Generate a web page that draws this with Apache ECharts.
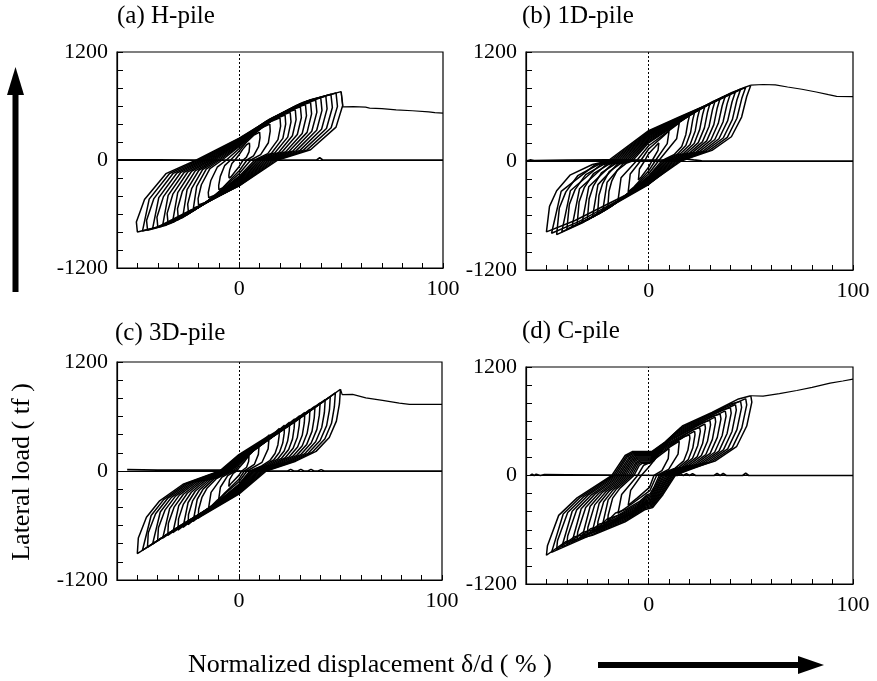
<!DOCTYPE html>
<html><head><meta charset="utf-8">
<script src="https://cdn.jsdelivr.net/npm/echarts@6/dist/echarts.min.js"></script>
<style>html,body{margin:0;padding:0;background:#fff}#c{width:877px;height:681px}</style>
</head><body><div id="c"></div>
<script>
// ---- tick labels ----
const xTickLabels = [0, 100];
const yTickLabels = [-1200, 0, 1200];
const panelTitles = ['(a) H-pile', '(b) 1D-pile', '(c) 3D-pile', '(d) C-pile'];
const yAxisTitle = 'Lateral load ( tf )';
const xAxisTitle = 'Normalized displacement \u03b4/d ( % )';

// ---- (a) H-pile : hysteresis loops [x list, y list] ----
const loopsH = [
 [[5,5.1,4.8,3.5,1.9,0,-2,-4,-5,-5.1,-4.7,-3.6,-2.1,0,1.7,3.5,5],[190,152,91,29,0,-72,-128,-186,-200,-172,-110,-38,0,61,118,167,190]],
 [[10,10.2,9.5,7,3.8,0,-4,-8,-10,-10.1,-9.3,-7.2,-4.2,0,3.3,7,10],[310,248,149,47,0,-119,-211,-307,-330,-284,-182,-63,0,99,192,273,310]],
 [[15,15.2,14.3,10.5,5.7,0,-6,-12,-15,-15.2,-14,-10.8,-6.3,0,5,10.5,15],[400,320,192,60,0,-151,-269,-391,-420,-361,-231,-80,0,128,248,352,400]],
 [[20,20.3,19,14,7.6,0,-8,-16,-20,-20.2,-18.6,-14.4,-8.4,0,6.6,14,20],[470,376,226,71,0,-180,-320,-465,-500,-430,-275,-95,0,150,291,414,470]],
 [[22.5,22.8,21.4,15.8,8.6,0,-9,-18,-22.5,-20.9,-16.2,-9.5,0,15.8,22.5],[500,400,240,75,0,-193,-342,-498,-535,-294,-102,0,160,440,500]],
 [[25,25.4,23.8,17.5,9.5,0,-10,-20,-25,-25.3,-23.3,-18,-10.5,0,8.3,17.5,25],[530,424,254,80,0,-205,-365,-530,-570,-490,-314,-108,0,170,329,466,530]],
 [[27.5,27.9,26.1,19.3,10.5,0,-11,-22,-27.5,-25.6,-19.8,-11.6,0,19.3,27.5],[560,448,269,84,0,-216,-384,-558,-600,-330,-114,0,179,493,560]],
 [[30,30.5,28.5,21,11.4,0,-12,-24,-30,-30.3,-27.9,-21.6,-12.6,0,9.9,21,30],[590,472,283,89,0,-227,-403,-586,-630,-542,-347,-120,0,189,366,519,590]],
 [[32.5,33,30.9,22.8,12.4,0,-13,-26,-32.5,-30.2,-23.4,-13.7,0,22.8,32.5],[615,492,295,92,0,-238,-422,-614,-660,-363,-125,0,197,541,615]],
 [[35,35.5,33.3,24.5,13.3,0,-14,-28,-35,-35.4,-32.6,-25.2,-14.7,0,11.6,24.5,35],[640,512,307,96,0,-248,-442,-642,-690,-593,-380,-131,0,205,397,563,640]],
 [[37.5,38.1,35.6,26.3,14.3,0,-15,-30,-37.5,-34.9,-27,-15.8,0,26.3,37.5],[665,532,319,100,0,-257,-458,-665,-715,-393,-136,0,213,585,665]],
 [[40,40.6,38,28,15.2,0,-16,-32,-40,-40.4,-37.2,-28.8,-16.8,0,13.2,28,40],[690,552,331,104,0,-266,-474,-688,-740,-636,-407,-141,0,221,428,607,690]],
 [[42.5,43.1,40.4,29.8,16.2,0,-17,-34,-42.5,-39.5,-30.6,-17.9,0,29.8,42.5],[710,568,341,107,0,-274,-486,-707,-760,-418,-144,0,227,625,710]],
 [[45,45.7,42.8,31.5,17.1,0,-18,-36,-45,-45.5,-41.9,-32.4,-18.9,0,14.9,31.5,45],[730,584,350,110,0,-281,-499,-725,-780,-671,-429,-148,0,234,453,642,730]],
 [[47.5,48.2,45.1,33.3,18.1,0,-19,-38,-47.5,-44.2,-34.2,-20,0,33.3,47.5],[745,596,358,112,0,-284,-506,-735,-790,-435,-150,0,238,656,745]],
 [[50,50.8,47.5,35,19,0,-20,-40,-50,-50.5,-46.5,-36,-21,0,16.5,35,50],[760,608,365,114,0,-288,-512,-744,-800,-688,-440,-152,0,243,471,669,760]]
];
const tailH = [[50,50.8,56,62,64,70,77,85,93,96,100],[760,590,592,588,576,570,557,547,535,526,520]];
const baseH = [[-60,-40,-20,38,39.5,41,100],[3,3,0,0,25,0,0]];

// ---- (b) 1D-pile ----
const loops1D = [
 [[5,4.6,1.6,0,-3.6,-5,-4.5,-2,0,3.1,5],[200,116,0,-67,-176,-210,-88,0,80,154,200]],
 [[10,9.1,3.2,0,-7.2,-10,-9,-4,0,6.2,10],[330,191,0,-109,-286,-340,-143,0,132,254,330]],
 [[15,13.7,4.8,0,-10.8,-15,-13.5,-6,0,9.3,15],[420,244,0,-141,-370,-440,-185,0,168,323,420]],
 [[20,19.2,18.2,16.2,12.4,8.4,6.4,0,-7.8,-14.4,-20,-19.4,-18,-15.4,-11,-8,0,6,12.4,18,20],[500,425,290,160,70,25,0,-166,-312,-437,-520,-333,-218,-104,-26,0,200,290,385,475,500]],
 [[22.5,21.6,20.5,18.2,14,7.2,0,-8.8,-16.2,-22.5,-20.3,-12.4,-9,0,14,22.5],[535,455,310,171,75,0,-178,-333,-466,-555,-233,-28,0,214,412,535]],
 [[25,24,22.8,20.3,15.5,10.5,8,0,-9.8,-18,-25,-24.3,-22.5,-19.3,-13.8,-10,0,7.5,15.5,22.5,25],[570,485,331,182,80,29,0,-189,-354,-496,-590,-378,-248,-118,-30,0,228,331,439,542,570]],
 [[27.5,26.4,25,22.3,17.1,8.8,0,-10.7,-19.8,-27.5,-24.8,-15.1,-11,0,17.1,27.5],[600,510,348,192,84,0,-198,-372,-521,-620,-260,-31,0,240,462,600]],
 [[30,28.8,27.3,24.3,18.6,12.6,9.6,0,-11.7,-21.6,-30,-29.1,-27,-23.1,-16.5,-12,0,9,18.6,27,30],[630,536,365,202,88,32,0,-208,-390,-546,-650,-416,-273,-130,-33,0,252,365,485,599,630]],
 [[32.5,31.2,29.6,26.3,20.2,10.4,0,-12.7,-23.4,-32.5,-29.3,-17.9,-13,0,20.2,32.5],[660,561,383,211,92,0,-216,-405,-567,-675,-284,-34,0,264,508,660]],
 [[35,33.6,31.9,28.4,21.7,14.7,11.2,0,-13.7,-25.2,-35,-34,-31.5,-27,-19.3,-14,0,10.5,21.7,31.5,35],[690,587,400,221,97,35,0,-224,-420,-588,-700,-448,-294,-140,-35,0,276,400,531,656,690]],
 [[37.5,36,34.1,30.4,23.3,12,0,-14.6,-27,-37.5,-33.8,-20.6,-15,0,23.3,37.5],[715,608,415,229,100,0,-232,-435,-609,-725,-305,-36,0,286,551,715]],
 [[40,38.4,36.4,32.4,24.8,16.8,12.8,0,-15.6,-28.8,-40,-38.8,-36,-30.8,-22,-16,0,12,24.8,36,40],[740,629,429,237,104,37,0,-240,-450,-630,-750,-480,-315,-150,-38,0,296,429,570,703,740]],
 [[42.5,40.8,38.7,34.4,26.4,13.6,0,-16.6,-30.6,-42.5,-38.3,-23.4,-17,0,26.4,42.5],[765,650,444,245,107,0,-250,-468,-655,-780,-328,-39,0,306,589,765]],
 [[45,43.2,41,36.5,27.9,18.9,14.4,0,-17.6,-32.4,-45,-43.7,-40.5,-34.7,-24.8,-18,0,13.5,27.9,40.5,45],[790,672,458,253,111,40,0,-259,-486,-680,-810,-518,-340,-162,-41,0,316,458,608,751,790]],
 [[47.5,45.6,43.2,38.5,29.5,15.2,0,-18.5,-34.2,-47.5,-42.8,-26.1,-19,0,29.5,47.5],[812,690,471,260,114,0,-254,-477,-668,-795,-334,-40,0,325,625,812]],
 [[50,48,45.5,40.5,31,21,16,0,-19.5,-36,-50,-48.5,-45,-38.5,-27.5,-20,0,15,31,45,50],[835,710,484,267,117,42,0,-250,-468,-655,-780,-499,-328,-156,-39,0,334,484,643,793,835]]
];
const tail1D = [[50,56,62,68,75,82,88,92,100],[835,842,838,815,790,760,730,712,708]];
const base1D = [[-60,-58,-56,-40,-20,0,15,18,22,26,30,100],[0,12,5,10,12,10,12,22,12,3,0,0]];

// ---- (c) 3D-pile ----
const loops3D = [
 [[5,4.8,3.8,1.4,0,-3.6,-5,-4.6,-2.8,-1,0,3,5],[170,104,41,0,-48,-131,-170,-95,-27,0,34,111,170]],
 [[10,9.6,7.6,2.7,0,-7.1,-10,-9.1,-5.5,-1.9,0,6,10],[300,183,72,0,-90,-246,-320,-179,-51,0,60,195,300]],
 [[15,14.4,11.4,4,0,-10.7,-15,-13.7,-8.3,-2.9,0,9,15],[400,244,96,0,-118,-323,-420,-235,-67,0,80,260,400]],
 [[20,19.8,19.2,17.8,15.2,11.2,5.4,0,-7.8,-14.2,-20,-19.8,-18.2,-15.6,-11,-3.8,0,5.4,12,17.8,20],[470,385,287,193,113,56,0,-146,-291,-400,-520,-421,-291,-187,-83,0,94,193,306,423,470]],
 [[22.5,22.3,21.6,20,17.1,12.6,6.1,0,-8.8,-16,-22.5,-20.5,-17.6,-12.4,-4.3,0,13.5,22.5],[505,414,308,207,121,61,0,-155,-311,-427,-555,-311,-200,-89,0,101,328,505]],
 [[25,24.8,24,22.3,19,14,6.8,0,-9.8,-17.8,-25,-24.8,-22.8,-19.5,-13.8,-4.8,0,6.8,15,22.3,25],[540,443,329,221,130,65,0,-165,-330,-454,-590,-478,-330,-212,-94,0,108,221,351,486,540]],
 [[27.5,27.2,26.4,24.5,20.9,15.4,7.4,0,-10.7,-19.5,-27.5,-25,-21.5,-15.1,-5.2,0,16.5,27.5],[575,472,351,236,138,69,0,-174,-347,-477,-620,-347,-223,-99,0,115,374,575]],
 [[30,29.7,28.8,26.7,22.8,16.8,8.1,0,-11.7,-21.3,-30,-29.7,-27.3,-23.4,-16.5,-5.7,0,8.1,18,26.7,30],[610,500,372,250,146,73,0,-182,-364,-501,-650,-527,-364,-234,-104,0,122,250,397,549,610]],
 [[32.5,32.2,31.2,28.9,24.7,18.2,8.8,0,-12.7,-23.1,-32.5,-29.6,-25.4,-17.9,-6.2,0,19.5,32.5],[645,529,393,264,155,77,0,-190,-381,-524,-680,-381,-245,-109,0,129,419,645]],
 [[35,34.7,33.6,31.2,26.6,19.6,9.5,0,-13.7,-24.9,-35,-34.7,-31.9,-27.3,-19.3,-6.7,0,9.5,21,31.2,35],[680,558,415,279,163,82,0,-199,-398,-547,-710,-575,-398,-256,-114,0,136,279,442,612,680]],
 [[37.5,37.1,36,33.4,28.5,21,10.1,0,-14.6,-26.6,-37.5,-34.1,-29.3,-20.6,-7.1,0,22.5,37.5],[715,586,436,293,172,86,0,-207,-414,-570,-740,-414,-266,-118,0,143,465,715]],
 [[40,39.6,38.4,35.6,30.4,22.4,10.8,0,-15.6,-28.4,-40,-39.6,-36.4,-31.2,-22,-7.6,0,10.8,24,35.6,40],[750,615,458,308,180,90,0,-216,-431,-593,-770,-624,-431,-277,-123,0,150,308,488,675,750]],
 [[42.5,42.1,40.8,37.8,32.3,23.8,11.5,0,-16.6,-30.2,-42.5,-38.7,-33.2,-23.4,-8.1,0,25.5,42.5],[785,644,479,322,188,94,0,-225,-451,-620,-805,-451,-290,-129,0,157,510,785]],
 [[45,44.6,43.2,40,34.2,25.2,12.2,0,-17.6,-32,-45,-44.6,-41,-35.1,-24.8,-8.6,0,12.2,27,40,45],[820,672,500,336,197,98,0,-235,-470,-647,-840,-680,-470,-302,-134,0,164,336,533,738,820]],
 [[47.5,47,45.6,42.3,36.1,26.6,12.8,0,-18.5,-33.7,-47.5,-43.2,-37,-26.1,-9,0,28.5,47.5],[860,705,525,353,206,103,0,-245,-490,-674,-875,-490,-315,-140,0,172,559,860]],
 [[50,49.5,48,44.5,38,28,13.5,0,-19.5,-35.5,-50,-49.5,-45.5,-39,-27.5,-9.5,0,13.5,30,44.5,50],[900,738,549,369,216,108,0,-255,-510,-701,-910,-737,-510,-328,-146,0,180,369,585,810,900]]
];
const tail3D = [[50,50.9,56,62.5,70.7,79,84,100],[900,840,843,805,778,748,733,733]];
const base3D = [[-55,-40,-20,-5,0,24,25.5,27,29,30.5,32,34,35.5,37,39,40.5,42,100],[15,10,10,10,0,0,18,0,0,18,0,0,18,0,0,15,0,0]];

// ---- (d) C-pile ----
const loopsC = [
 [[10,9.6,6.5,2.6,0.4,-5.5,-10,-8.8,-3.6,0,3.3,6.2,10],[300,186,54,0,-132,-248,-330,-165,0,90,186,237,300]],
 [[15,14.4,9.8,3.9,0.6,-8.3,-15,-13.2,-5.4,-2.4,2.4,5,9.3,15],[380,236,68,0,-168,-315,-420,-210,0,114,160,236,300,380]],
 [[20,20.2,19.2,17.2,13,8,5.2,2.8,0.8,-0.8,-4.6,-11,-16.2,-20,-19.8,-17.6,-14,-7.2,-4.6,-3.2,0.6,3.2,6.6,12.4,17.6,20],[450,414,279,162,81,36,0,-120,-200,-215,-290,-375,-415,-500,-440,-250,-140,0,113,135,135,189,279,356,432,450]],
 [[22.5,22.7,21.6,19.4,14.6,5.9,3.2,0.9,-0.9,-5.2,-12.4,-22.5,-19.8,-15.8,-8.1,-5.2,-3.6,0.7,3.6,7.4,14,22.5],[490,451,304,176,88,0,-130,-216,-232,-313,-405,-540,-270,-151,0,123,147,147,206,304,387,490]],
 [[25,25.3,24,21.5,16.3,10,6.5,3.5,1,-1,-5.8,-13.8,-20.3,-25,-24.8,-22,-17.5,-9,-5.8,-4,0.8,4,8.3,15.5,22,25],[530,488,329,191,95,42,0,-139,-232,-249,-336,-435,-481,-580,-510,-290,-162,0,133,159,159,223,329,419,509,530]],
 [[27.5,27.8,26.4,23.7,17.9,7.2,3.9,1.1,-1.1,-6.3,-15.1,-27.5,-24.2,-19.3,-9.9,-6.3,-4.4,0.8,4.4,9.1,17.1,27.5],[570,524,353,205,103,0,-148,-246,-264,-357,-461,-615,-308,-172,0,143,171,171,239,353,450,570]],
 [[30,30.3,28.8,25.8,19.5,12,7.8,4.2,1.2,-1.2,-6.9,-16.5,-24.3,-30,-29.7,-26.4,-21,-10.8,-6.9,-4.8,0.9,4.8,9.9,18.6,26.4,30],[610,561,378,220,110,49,0,-156,-260,-280,-377,-488,-540,-650,-572,-325,-182,0,153,183,183,256,378,482,586,610]],
 [[32.5,32.8,31.2,28,21.1,8.5,4.6,1.3,-1.3,-7.5,-17.9,-32.5,-28.6,-22.8,-11.7,-7.5,-5.2,1,5.2,10.7,20.2,32.5],[645,593,400,232,116,0,-163,-272,-292,-394,-510,-680,-340,-190,0,161,194,194,271,400,510,645]],
 [[35,35.4,33.6,30.1,22.8,14,9.1,4.9,1.4,-1.4,-8.1,-19.3,-28.4,-35,-34.7,-30.8,-24.5,-12.6,-8.1,-5.6,1.1,5.6,11.6,21.7,30.8,35],[680,626,422,245,122,54,0,-170,-284,-305,-412,-533,-589,-710,-625,-355,-199,0,170,204,204,286,422,537,653,680]],
 [[37.5,37.9,36,32.3,24.4,9.8,5.3,1.5,-1.5,-8.6,-20.6,-37.5,-33,-26.3,-13.5,-8.6,-6,1.1,6,12.4,23.3,37.5],[715,658,443,257,129,0,-176,-294,-316,-426,-551,-735,-368,-206,0,179,215,215,300,443,565,715]],
 [[40,40.4,38.4,34.4,26,16,10.4,5.6,1.6,-1.6,-9.2,-22,-32.4,-40,-39.6,-35.2,-28,-14.4,-9.2,-6.4,1.2,6.4,13.2,24.8,35.2,40],[750,690,465,270,135,60,0,-182,-304,-327,-441,-570,-631,-760,-669,-380,-213,0,188,225,225,315,465,593,720,750]],
 [[42.5,42.9,40.8,36.6,27.6,11.1,6,1.7,-1.7,-9.8,-23.4,-42.5,-37.4,-29.8,-15.3,-9.8,-6.8,1.3,6.8,14,26.4,42.5],[785,722,487,283,141,0,-190,-316,-340,-458,-593,-790,-395,-221,0,196,236,236,330,487,620,785]],
 [[45,45.5,43.2,38.7,29.3,18,11.7,6.3,1.8,-1.8,-10.4,-24.8,-36.5,-45,-44.6,-39.6,-31.5,-16.2,-10.4,-7.2,1.4,7.2,14.9,27.9,39.6,45],[820,754,508,295,148,66,0,-197,-328,-353,-476,-615,-681,-820,-722,-410,-230,0,205,246,246,344,508,648,787,820]],
 [[47.5,48,45.6,40.9,30.9,12.4,6.7,1.9,-1.9,-10.9,-26.1,-47.5,-41.8,-33.3,-17.1,-10.9,-7.6,1.4,7.6,15.7,29.5,47.5],[850,782,527,306,153,0,-204,-340,-366,-493,-638,-850,-425,-238,0,213,255,255,357,527,672,850]],
 [[50,50.5,48,43,32.5,20,13,7,2,-2,-11.5,-27.5,-40.5,-50,-49.5,-44,-35,-18,-11.5,-8,1.5,8,16.5,31,44,50],[882,811,547,318,159,71,0,-212,-353,-379,-512,-662,-732,-882,-776,-441,-247,0,221,265,265,370,547,697,847,882]]
];
const tailC = [[50,50.5,56,64,72.5,80,88.8,95,100],[882,866,878,905,940,975,1021,1045,1065]];
const baseC = [[-58,-57,-56,-55,-53,-51,-40,-20,14,15.5,17,18.5,20,21.5,23,32,33.5,35,36.5,38,46,47.5,49,100],[0,15,0,15,0,10,8,5,0,20,0,20,0,20,0,0,22,0,22,0,0,25,0,0]];

// ---------- build ----------
const FONT = '"Liberation Serif", "Times New Roman", serif';
function zip(p){ const n = Math.min(p[0].length, p[1].length); const out=[]; for(let i=0;i<n;i++) out.push([p[0][i], p[1][i]]); return out; }

const panels = [
 {loops: loopsH, tail: tailH, base: baseH},
 {loops: loops1D, tail: tail1D, base: base1D},
 {loops: loops3D, tail: tail3D, base: base3D},
 {loops: loopsC, tail: tailC, base: baseC}
];
const gridRects = [
 {left:117, top:52, width:326, height:216},
 {left:526, top:52, width:327, height:218},
 {left:117, top:362, width:325, height:218},
 {left:526, top:367, width:327, height:217}
];
const titlePos = [[117,4],[522,4],[115,321],[522,319]];

const grid = [], xAxis = [], yAxis = [], series = [];
gridRects.forEach((g,i)=>{
  grid.push(Object.assign({show:true, borderColor:'#000', borderWidth:1.2, backgroundColor:'transparent', containLabel:false, outerBoundsMode:'none'}, g));
  xAxis.push({gridIndex:i, type:'value', min:-60, max:100, interval:10,
    axisLine:{show:true, onZero:false, lineStyle:{color:'#000', width:1.2}},
    axisTick:{show:true, inside:true, length:5, lineStyle:{color:'#000', width:1}},
    splitLine:{show:false},
    axisLabel:{show:true, interval:0, showMinLabel:true, showMaxLabel:true, margin:10, color:'#000', fontFamily:FONT, fontSize:22,
      formatter:v=> xTickLabels.indexOf(v) >= 0 ? String(v) : ''}
  });
  yAxis.push({gridIndex:i, type:'value', min:-1200, max:1200, interval:200,
    axisLine:{show:true, onZero:false, lineStyle:{color:'#000', width:1.2}},
    axisTick:{show:true, inside:true, length:6, lineStyle:{color:'#000', width:1}},
    splitLine:{show:false},
    axisLabel:{show:true, interval:0, showMinLabel:true, showMaxLabel:true, margin:9, color:'#000', fontFamily:FONT, fontSize:22,
      formatter:v=> yTickLabels.indexOf(v) >= 0 ? String(v) : ''}
  });
  const p = panels[i];
  series.push({type:'line', xAxisIndex:i, yAxisIndex:i, data: zip(p.base), symbol:'none', showSymbol:false,
    lineStyle:{color:'#000', width:1.6}, silent:true, animation:false, z:2,
    markLine:{symbol:'none', silent:true, animation:false, label:{show:false},
      data:[{xAxis:0, lineStyle:{type:[2,2], color:'#000', width:1}}, {yAxis:0, lineStyle:{type:'solid', color:'#000', width:1.2}}]}
  });
  p.loops.forEach(l=>{
    series.push({type:'line', xAxisIndex:i, yAxisIndex:i, data: zip(l), symbol:'none', showSymbol:false,
      lineStyle:{color:'#000', width:1.5}, silent:true, animation:false, z:3});
  });
  series.push({type:'line', xAxisIndex:i, yAxisIndex:i, data: zip(p.tail), symbol:'none', showSymbol:false,
    lineStyle:{color:'#000', width:1.2}, silent:true, animation:false, z:3});
});

const graphic = [];
panelTitles.forEach((t,i)=>{
  graphic.push({type:'text', x:titlePos[i][0], y:titlePos[i][1], silent:true,
    style:{text:t, font:'25px ' + FONT, fill:'#000', align:'left', verticalAlign:'top'}});
});
graphic.push({type:'text', x:22, y:472, rotation:Math.PI/2, silent:true,
  style:{text:yAxisTitle, font:'26px ' + FONT, fill:'#000', align:'center', verticalAlign:'middle'}});
graphic.push({type:'text', x:188, y:665, silent:true,
  style:{text:xAxisTitle, font:'26px ' + FONT, fill:'#000', align:'left', verticalAlign:'middle'}});
// arrows
graphic.push({type:'rect', silent:true, shape:{x:12.5, y:90, width:6, height:202}, style:{fill:'#000'}});
graphic.push({type:'polygon', silent:true, shape:{points:[[7,95],[15.5,67],[24,95]]}, style:{fill:'#000'}});
graphic.push({type:'rect', silent:true, shape:{x:598, y:662, width:205, height:6}, style:{fill:'#000'}});
graphic.push({type:'polygon', silent:true, shape:{points:[[798,656],[824,665],[798,674]]}, style:{fill:'#000'}});

const chart = echarts.init(document.getElementById('c'), null, {renderer:'canvas'});
chart.setOption({animation:false, backgroundColor:'#fff', grid, xAxis, yAxis, series, graphic});
</script></body></html>
